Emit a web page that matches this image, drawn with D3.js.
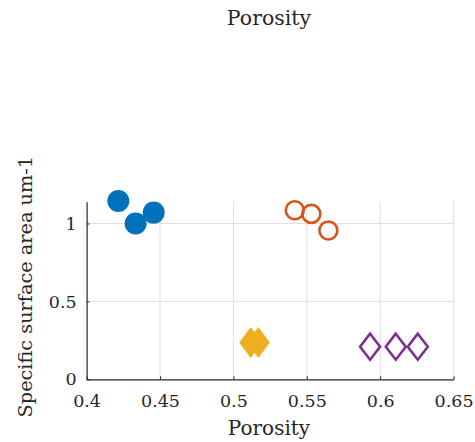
<!DOCTYPE html>
<html>
<head>
<meta charset="utf-8">
<script src="https://cdn.jsdelivr.net/npm/d3@7/dist/d3.min.js"></script>
<style>
  html, body { margin: 0; padding: 0; background: #fff; }
  text { font-family: "DejaVu Serif", "Liberation Serif", serif; fill: #262626; }
</style>
</head>
<body>
<svg id="chart" width="475" height="442"></svg>
<script>
// Porosity vs. specific surface area, four sample groups
const groupA = { porosity: [0.4216, 0.4334, 0.4457], area: [1.145, 1.0, 1.07] };
const groupB = { porosity: [0.5418, 0.5531, 0.5647], area: [1.085, 1.062, 0.955] };
const groupC = { porosity: [0.5118, 0.5170], area: [0.237, 0.237] };
const groupD = { porosity: [0.5931, 0.6106, 0.6256], area: [0.209, 0.209, 0.209] };

const xTicks = [0.4, 0.45, 0.5, 0.55, 0.6, 0.65];
const yTicks = [0, 0.5, 1];
const xTickLabels = ["0.4", "0.45", "0.5", "0.55", "0.6", "0.65"];
const yTickLabels = ["0", "0.5", "1"];

const svg = d3.select("#chart");
const plotLeft = 86.6, plotRight = 453.6, plotTop = 201.7, plotBottom = 379.3;

const x = d3.scaleLinear().domain([0.4, 0.65]).range([plotLeft, plotRight]);
const y = d3.scaleLinear().domain([0, 1.14]).range([plotBottom, plotTop]);

// grid
const grid = svg.append("g").attr("stroke", "#dfdfdf").attr("stroke-width", 1);
grid.selectAll("line.vx").data(xTicks.slice(1)).join("line")
  .attr("x1", d => x(d)).attr("x2", d => x(d))
  .attr("y1", plotTop).attr("y2", plotBottom);
grid.selectAll("line.hy").data(yTicks.slice(1)).join("line")
  .attr("x1", plotLeft).attr("x2", plotRight)
  .attr("y1", d => y(d)).attr("y2", d => y(d));

// axes
const xAxis = d3.axisBottom(x).tickValues(xTicks)
  .tickFormat((d, i) => xTickLabels[i]).tickSizeInner(-3).tickSizeOuter(0).tickPadding(15);
const yAxis = d3.axisLeft(y).tickValues(yTicks)
  .tickFormat((d, i) => yTickLabels[i]).tickSizeInner(-3).tickSizeOuter(0).tickPadding(10);

const gx = svg.append("g").attr("transform", `translate(0,${plotBottom})`).call(xAxis);
const gy = svg.append("g").attr("transform", `translate(${plotLeft},0)`).call(yAxis);
[gx, gy].forEach(g => {
  g.select(".domain").attr("stroke", "#262626").attr("stroke-width", 1.2);
  g.selectAll(".tick line").attr("stroke", "#262626");
  g.selectAll(".tick text").attr("font-size", 17.5).attr("font-family", "DejaVu Serif").attr("fill", "#333");
});

// markers
const diamond = (hw, hh) => `M0,${-hh}L${hw},0L0,${hh}L${-hw},0Z`;

svg.append("g").selectAll("circle").data(d3.zip(groupA.porosity, groupA.area)).join("circle")
  .attr("cx", d => x(d[0])).attr("cy", d => y(d[1])).attr("r", 11)
  .attr("fill", "#0072BD");

svg.append("g").selectAll("circle").data(d3.zip(groupB.porosity, groupB.area)).join("circle")
  .attr("cx", d => x(d[0])).attr("cy", d => y(d[1])).attr("r", 9)
  .attr("fill", "none").attr("stroke", "#D95319").attr("stroke-width", 2.6);

svg.append("g").selectAll("path").data(d3.zip(groupC.porosity, groupC.area)).join("path")
  .attr("transform", d => `translate(${x(d[0])},${y(d[1])})`)
  .attr("d", diamond(11.5, 15.5)).attr("fill", "#EDB120");

svg.append("g").selectAll("path").data(d3.zip(groupD.porosity, groupD.area)).join("path")
  .attr("transform", d => `translate(${x(d[0])},${y(d[1])})`)
  .attr("d", diamond(10, 13)).attr("fill", "none")
  .attr("stroke", "#7E2F8E").attr("stroke-width", 2.6);

// labels
svg.append("text").attr("x", 269).attr("y", 25)
  .attr("text-anchor", "middle").attr("font-size", 20.5).text("Porosity");
svg.append("text").attr("x", 269).attr("y", 435)
  .attr("text-anchor", "middle").attr("font-size", 20).text("Porosity");
svg.append("text").attr("transform", "translate(32,286.7) rotate(-90)")
  .attr("text-anchor", "middle").attr("font-size", 19.3).text("Specific surface area um-1");
</script>
</body>
</html>
